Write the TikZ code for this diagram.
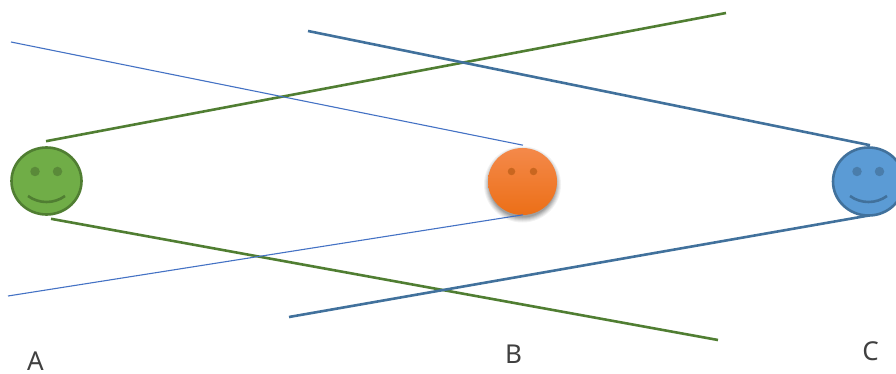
\documentclass[tikz,border=0pt]{standalone}
\usepackage{fontspec}
\setmainfont{Noto Sans}
\usetikzlibrary{shapes.geometric}
\definecolor{gfill}{HTML}{70AD47}\definecolor{gline}{HTML}{507E32}\definecolor{geye}{HTML}{5A8A39}
\definecolor{bfill}{HTML}{5B9BD5}\definecolor{bline}{HTML}{41719C}\definecolor{beye}{HTML}{4A7DAB}
\definecolor{thinblue}{HTML}{4472C4}\definecolor{oeye}{HTML}{C9661F}
\definecolor{otop}{HTML}{F4894A}\definecolor{obot}{HTML}{EC6F17}
\tikzset{
 x=1pt,y=-1pt,
 face/.style={ellipse,inner sep=0pt,minimum width=70pt,minimum height=67pt,line width=2.6pt},
 eye/.style={circle,inner sep=0pt,minimum size=9.5pt},
 thinline/.style={thinblue,line width=1.1pt},
 gl/.style={gline,line width=2.6pt},
 bl/.style={bline,line width=2.6pt},
 lab/.style={font=\fontsize{26}{28}\selectfont,text=black!75,inner sep=0pt}
}
\begin{document}
\begin{tikzpicture}
\useasboundingbox (0,0) rectangle (896,374);
\clip (0,0) rectangle (896,374);
% shadow of the orange face
\foreach \e/\o in {5/.05,4/.06,3/.07,2/.08,1/.09,0/.10}{
 \fill[black,opacity=\o] (522.5,184.5) ellipse ({33.5+\e} and {33+\e});
}
\node[face,draw=gline,fill=gfill] (a) at (46.5,181) {};
\node[face,minimum width=69pt,top color=otop,bottom color=obot] (b) at (522.5,181.5) {};
\node[face,draw=bline,fill=bfill,minimum width=71pt,minimum height=68pt] (c) at (868.5,181.5) {};
% eyes
\node[eye,fill=geye] (ae1) at (35,171.5) {};
\node[eye,fill=geye] (ae2) at (57.5,171.5) {};
\node[eye,minimum size=7.5pt,fill=oeye] (be1) at (511.5,171.5) {};
\node[eye,minimum size=7.5pt,fill=oeye] (be2) at (533.5,171.5) {};
\node[eye,fill=beye] (ce1) at (857,171.5) {};
\node[eye,fill=beye] (ce2) at (879.5,171.5) {};
% smiles
\draw[gline,line width=2.6pt] (28,196) .. controls (39,204) and (54,204) .. (65,196);
\draw[bline,line width=2.6pt] (850,196) .. controls (861,204) and (876,204) .. (887,196);
% free ends
\coordinate (g1) at (726,13);
\coordinate (g2) at (718,340);
\coordinate (t1) at (11,42);
\coordinate (t2) at (8,296);
\coordinate (s1) at (308,31);
\coordinate (s2) at (289,317);
% connectors
\draw[gl] ([xshift=-0.5pt,yshift=5pt]a.north) -- (g1);
\draw[gl] ([xshift=4.5pt,yshift=-3pt]a.south) -- (g2);
\draw[thinline] ([xshift=0.5pt,yshift=1.5pt]b.north) -- (t1);
\draw[thinline] ([xshift=0.5pt,yshift=1.5pt]b.south) -- (t2);
\draw[bl] ([xshift=1.5pt,yshift=1pt]c.north) -- (s1);
\draw[bl] ([xshift=1.5pt,yshift=1.5pt]c.south) -- (s2);
% labels
\node[lab] (la) at (35.5,361) {A};
\node[lab] (lb) at (513.5,354.5) {B};
\node[lab] (lc) at (870.5,351.5) {C};
\end{tikzpicture}
\end{document}
